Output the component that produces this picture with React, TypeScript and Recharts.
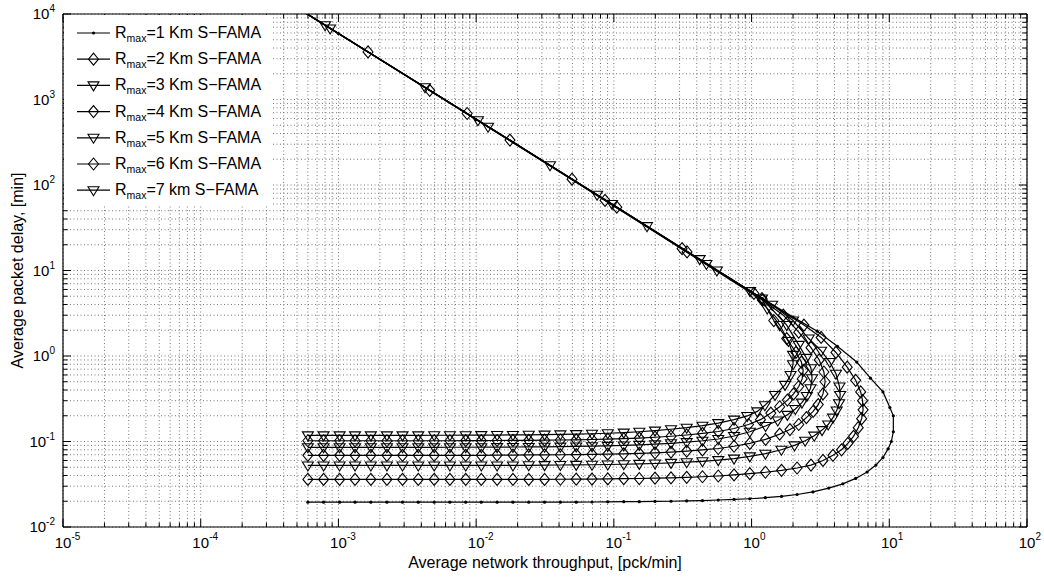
import React from 'react';
import { LineChart, Line, XAxis, YAxis, CartesianGrid, ReferenceLine } from 'recharts';

const FONT = '"Liberation Sans", Arial, Helvetica, sans-serif';
const WIDTH = 1044;
const HEIGHT = 577;
const PLOT_LEFT = 63;
const PLOT_TOP = 14;
const PLOT_RIGHT = 1027;
const PLOT_BOTTOM = 527;
const X_MIN = 1e-5;
const X_MAX = 1e2;
const Y_MIN = 1e-2;
const Y_MAX = 1e4;
const X_PX_PER_DEC = (PLOT_RIGHT - PLOT_LEFT) / 7;
const Y_PX_PER_DEC = (PLOT_BOTTOM - PLOT_TOP) / 6;

const xTickExps = [-5, -4, -3, -2, -1, 0, 1, 2];
const yTickExps = [-2, -1, 0, 1, 2, 3, 4];

// throughput of the markers on the flat, low-load branch (same for every curve)
const lowThroughput = [
  0.0006, 0.00078, 0.00102, 0.00132, 0.00172, 0.00225, 0.00292, 0.0038, 0.00496, 0.00645,
  0.0084, 0.0109, 0.0142, 0.0185, 0.0241, 0.0314, 0.0409, 0.0533, 0.0694, 0.0903,
  0.118, 0.153, 0.199, 0.26, 0.338, 0.44, 0.573,
];

// delay on the flat branch, one value per lowThroughput point
const lowDelay1 = [
  0.0195, 0.0195, 0.0195, 0.0195, 0.0195, 0.0195, 0.0195, 0.0195, 0.0195, 0.0195,
  0.0195, 0.0195, 0.0195, 0.0195, 0.0195, 0.0195, 0.0195, 0.0195, 0.0196, 0.0197,
  0.0198, 0.0198, 0.0199, 0.02, 0.0202, 0.0204, 0.0207,
];
const lowDelay2 = [
  0.036, 0.036, 0.036, 0.036, 0.036, 0.036, 0.036, 0.036, 0.036, 0.036,
  0.036, 0.036, 0.036, 0.036, 0.036, 0.036, 0.0362, 0.0363, 0.0364, 0.0365,
  0.0367, 0.0369, 0.0372, 0.0376, 0.0381, 0.0387, 0.0395,
];
const lowDelay3 = [
  0.0525, 0.0525, 0.0525, 0.0525, 0.0525, 0.0525, 0.0525, 0.0525, 0.0525, 0.0525,
  0.0525, 0.0525, 0.0525, 0.0525, 0.0527, 0.0529, 0.0531, 0.0533, 0.0535, 0.0538,
  0.0542, 0.0547, 0.0553, 0.0562, 0.0573, 0.0587, 0.0606,
];
const lowDelay4 = [
  0.069, 0.069, 0.069, 0.069, 0.069, 0.069, 0.069, 0.069, 0.069, 0.069,
  0.069, 0.069, 0.0693, 0.0694, 0.0696, 0.0698, 0.07, 0.0703, 0.0707, 0.0712,
  0.0718, 0.0727, 0.0738, 0.0753, 0.0772, 0.0796, 0.0828,
];
const lowDelay5 = [
  0.0855, 0.0855, 0.0855, 0.0855, 0.0855, 0.0855, 0.0855, 0.0855, 0.0855, 0.0856,
  0.0857, 0.0858, 0.086, 0.0862, 0.0864, 0.0867, 0.087, 0.0875, 0.0881, 0.0889,
  0.0899, 0.0913, 0.093, 0.0953, 0.0982, 0.102, 0.107,
];
const lowDelay6 = [
  0.102, 0.102, 0.102, 0.102, 0.102, 0.102, 0.102, 0.102, 0.102, 0.102,
  0.1024, 0.1026, 0.1027, 0.1029, 0.1032, 0.1036, 0.1041, 0.1047, 0.1055, 0.1066,
  0.108, 0.1098, 0.1122, 0.1152, 0.1192, 0.1244, 0.131,
];
const lowDelay7 = [
  0.118, 0.118, 0.118, 0.118, 0.118, 0.118, 0.118, 0.118, 0.1183, 0.1184,
  0.1185, 0.1187, 0.119, 0.1193, 0.1197, 0.1203, 0.121, 0.122, 0.1232, 0.1249,
  0.1271, 0.13, 0.134, 0.139, 0.145, 0.153, 0.164,
];

// rest of each curve: [throughput, delay] from the knee, round the nose, back up the diagonal
const tail1: [number, number][] = [
  [0.746, 0.021], [0.971, 0.0214], [1.26, 0.022], [1.65, 0.0228], [2.14, 0.024], [2.79, 0.0257],
  [3.63, 0.0285], [4.6, 0.032], [5.7, 0.037], [6.9, 0.044], [8.0, 0.053], [9.0, 0.065],
  [9.8, 0.082], [10.35, 0.1], [10.7, 0.13], [10.7, 0.2], [10.1, 0.25], [9.0, 0.38],
  [7.3, 0.55], [5.8, 0.85], [4.2, 1.3], [3.0, 1.95], [2.0, 2.85], [1.2, 4.7],
  [0.5, 11.3], [0.1, 57], [0.01, 580], [0.001, 5900], [0.00035, 17000],
];
const tail2: [number, number][] = [
  [0.746, 0.0406], [0.971, 0.042], [1.26, 0.0437], [1.65, 0.046], [2.14, 0.049], [2.7, 0.053],
  [3.3, 0.06], [3.9, 0.069], [4.5, 0.08], [5.0, 0.095], [5.5, 0.115], [5.95, 0.145],
  [6.3, 0.185], [6.45, 0.235], [6.4, 0.3], [6.2, 0.38], [5.7, 0.52], [4.95, 0.74],
  [4.1, 1.1], [3.2, 1.65], [2.4, 2.3], [1.19, 4.7], [0.34, 16.5], [0.105, 55],
  [0.0046, 1280], [0.00035, 17000],
];
const tail3: [number, number][] = [
  [0.746, 0.063], [0.971, 0.067], [1.26, 0.072], [1.646, 0.08], [2.05, 0.09], [2.45, 0.102],
  [2.85, 0.117], [3.25, 0.136], [3.6, 0.158], [3.9, 0.19], [4.15, 0.23], [4.32, 0.28],
  [4.4, 0.35], [4.35, 0.44], [4.1, 0.62], [3.7, 0.85], [3.2, 1.15], [2.6, 1.6],
  [2.0, 2.6], [1.41, 3.97], [0.42, 13.6], [0.0755, 77], [0.0122, 480], [0.00087, 6780],
  [0.00035, 17000],
];
const tail4: [number, number][] = [
  [0.746, 0.088], [0.971, 0.095], [1.264, 0.106], [1.6, 0.122], [1.9, 0.138], [2.2, 0.158],
  [2.5, 0.19], [2.8, 0.225], [3.05, 0.27], [3.3, 0.36], [3.42, 0.5], [3.35, 0.65],
  [3.1, 0.9], [2.7, 1.25], [2.2, 1.9], [1.7, 3.0], [1.04, 5.4], [0.313, 18],
  [0.0497, 117], [0.0086, 686], [0.00035, 17000],
];
const tail5: [number, number][] = [
  [0.746, 0.116], [0.971, 0.13], [1.264, 0.152], [1.55, 0.176], [1.82, 0.205], [2.08, 0.24],
  [2.32, 0.285], [2.52, 0.34], [2.68, 0.42], [2.75, 0.55], [2.7, 0.72], [2.5, 0.95],
  [2.2, 1.35], [1.8, 2.3], [1.19, 4.7], [0.47, 11.9], [0.174, 33], [0.0344, 170],
  [0.00425, 1390], [0.00035, 17000],
];
const tail6: [number, number][] = [
  [0.746, 0.142], [0.95, 0.158], [1.16, 0.18], [1.38, 0.215], [1.6, 0.255], [1.82, 0.305],
  [2.02, 0.36], [2.2, 0.44], [2.33, 0.54], [2.37, 0.68], [2.3, 0.85], [2.1, 1.1],
  [1.8, 1.6], [1.45, 2.6], [1.2, 4.5], [0.0863, 66], [0.0176, 335], [0.00164, 3600],
  [0.00035, 17000],
];
const tail7: [number, number][] = [
  [0.746, 0.18], [0.93, 0.199], [1.1, 0.225], [1.25, 0.265], [1.48, 0.35], [1.75, 0.46],
  [1.92, 0.6], [2.0, 0.8], [2.0, 1.03], [1.85, 1.5], [1.6, 2.3], [1.3, 3.6],
  [0.975, 5.74], [0.56, 10], [0.097, 60], [0.0103, 573], [0.0008, 7375], [0.00035, 17000],
];

const legendKm = ['1 Km', '2 Km', '3 Km', '4 Km', '5 Km', '6 Km', '7 km'];
type MarkerKind = 'dot' | 'diamond' | 'triangle';
const markerKinds: MarkerKind[] = ['dot', 'diamond', 'triangle', 'diamond', 'triangle', 'diamond', 'triangle'];

const curves = [
  { low: lowDelay1, tail: tail1 },
  { low: lowDelay2, tail: tail2 },
  { low: lowDelay3, tail: tail3 },
  { low: lowDelay4, tail: tail4 },
  { low: lowDelay5, tail: tail5 },
  { low: lowDelay6, tail: tail6 },
  { low: lowDelay7, tail: tail7 },
].map((c, i) => ({
  key: `r${i + 1}`,
  marker: markerKinds[i],
  label: legendKm[i],
  data: [
    ...lowThroughput.map((s, j) => ({ s, d: c.low[j] })),
    ...c.tail.map(([s, d]) => ({ s, d })),
  ],
}));

// 1..9 x 10^k positions for the dotted grid and the small ticks
function logSteps(exps: number[]) {
  const out: number[] = [];
  for (const e of exps.slice(0, -1)) {
    for (let m = 1; m <= 9; m++) out.push(m * Math.pow(10, e));
  }
  out.push(Math.pow(10, exps[exps.length - 1]));
  return out;
}
const xGrid = logSteps(xTickExps);
const yGrid = logSteps(yTickExps);
const xTicks = xTickExps.map((e) => Math.pow(10, e));
const yTicks = yTickExps.map((e) => Math.pow(10, e));

const isDecade = (v: number) => Math.abs(Math.log10(v) - Math.round(Math.log10(v))) < 1e-6;
const shiftLog = (v: number, px: number, perDec: number) => v * Math.pow(10, px / perDec);

function markerShape(kind: MarkerKind, cx: number, cy: number, key: string) {
  if (kind === 'dot') return <circle key={key} cx={cx} cy={cy} r={1.6} fill="#000" />;
  if (kind === 'diamond') {
    return (
      <path key={key} d={`M${cx},${cy - 6}L${cx + 5},${cy}L${cx},${cy + 6}L${cx - 5},${cy}Z`}
        fill="none" stroke="#000" strokeWidth={1.1} />
    );
  }
  return (
    <path key={key} d={`M${cx - 5.5},${cy - 3.5}L${cx + 5.5},${cy - 3.5}L${cx},${cy + 5.5}Z`}
      fill="none" stroke="#000" strokeWidth={1.1} />
  );
}

const XTick = (props: any) => {
  const { x, payload } = props;
  const e = Math.round(Math.log10(payload.value));
  return (
    <g fontFamily={FONT} fill="#000">
      <text x={x} y={PLOT_BOTTOM + 21} textAnchor="middle" fontSize={15} fill="#000">10</text>
      <text x={x + 8.5} y={PLOT_BOTTOM + 13} fontSize={10} fill="#000">{e}</text>
    </g>
  );
};

const YTick = (props: any) => {
  const { y, payload } = props;
  const e = Math.round(Math.log10(payload.value));
  return (
    <text x={PLOT_LEFT - 8} y={y + 5} textAnchor="end" fontFamily={FONT} fill="#000">
      <tspan fontSize={15}>10</tspan>
      <tspan fontSize={10} dy={-7}>{e}</tspan>
    </text>
  );
};

function Legend() {
  return (
    <g fontFamily={FONT} fill="#000">
      <rect x={PLOT_LEFT + 1} y={PLOT_TOP + 1} width={209} height={190} fill="#fff" />
      {curves.map((c, i) => {
        const y = PLOT_TOP + 19 + i * 26.2;
        return (
          <g key={c.key}>
            <line x1={77} x2={110} y1={y} y2={y} stroke="#000" strokeWidth={1.2} />
            {markerShape(c.marker, 93.5, y, `lg${i}`)}
            <text x={115} y={y + 5} fontSize={16}>
              R<tspan fontSize={10.5} dy={4}>max</tspan>
              <tspan dy={-4}>={c.label} S−FAMA</tspan>
            </text>
          </g>
        );
      })}
    </g>
  );
}

export default function App() {
  const tickMarks: React.ReactNode[] = [];
  xGrid.forEach((v, i) => {
    const len = isDecade(v) ? 8 : 4.5;
    tickMarks.push(
      <ReferenceLine key={`xb${i}`} segment={[{ x: v, y: Y_MIN }, { x: v, y: shiftLog(Y_MIN, len, Y_PX_PER_DEC) }]}
        stroke="#000" strokeWidth={1} />,
      <ReferenceLine key={`xt${i}`} segment={[{ x: v, y: Y_MAX }, { x: v, y: shiftLog(Y_MAX, -len, Y_PX_PER_DEC) }]}
        stroke="#000" strokeWidth={1} />,
    );
  });
  yGrid.forEach((v, i) => {
    const len = isDecade(v) ? 8 : 4.5;
    tickMarks.push(
      <ReferenceLine key={`yl${i}`} segment={[{ x: X_MIN, y: v }, { x: shiftLog(X_MIN, len, X_PX_PER_DEC), y: v }]}
        stroke="#000" strokeWidth={1} />,
      <ReferenceLine key={`yr${i}`} segment={[{ x: X_MAX, y: v }, { x: shiftLog(X_MAX, -len, X_PX_PER_DEC), y: v }]}
        stroke="#000" strokeWidth={1} />,
    );
  });

  return (
    <div style={{ position: 'absolute', left: 0, top: 0, width: WIDTH, height: HEIGHT, background: '#fff' }}>
      <LineChart
        width={WIDTH}
        height={HEIGHT}
        margin={{ top: PLOT_TOP, right: WIDTH - PLOT_RIGHT, bottom: HEIGHT - PLOT_BOTTOM - 30, left: PLOT_LEFT - 55 }}
      >
        <CartesianGrid horizontalValues={yGrid} verticalValues={xGrid} stroke="#777" strokeDasharray="1 2.5" />
        <XAxis
          dataKey="s"
          type="number"
          scale="log"
          domain={[X_MIN, X_MAX]}
          allowDataOverflow
          ticks={xTicks}
          interval={0}
          tick={(p: any) => <XTick {...p} />}
          tickLine={false}
          axisLine={{ stroke: '#000', strokeWidth: 1.2 }}
          height={30}
        />
        <YAxis
          type="number"
          scale="log"
          domain={[Y_MIN, Y_MAX]}
          allowDataOverflow
          ticks={yTicks}
          interval={0}
          tick={(p: any) => <YTick {...p} />}
          tickLine={false}
          axisLine={{ stroke: '#000', strokeWidth: 1.2 }}
          width={55}
        />
        <ReferenceLine y={Y_MAX} stroke="#000" strokeWidth={1.2} />
        <ReferenceLine x={X_MAX} stroke="#000" strokeWidth={1.2} />
        {tickMarks}
        {curves.map((c) => (
          <Line
            key={c.key}
            data={c.data}
            dataKey="d"
            type="linear"
            stroke="#000"
            strokeWidth={1.2}
            isAnimationActive={false}
            activeDot={false}
            dot={(p: any) =>
              p.cx == null || p.cy == null
                ? <g key={`${c.key}-${p.index}`} />
                : markerShape(c.marker, p.cx, p.cy, `${c.key}-${p.index}`)
            }
          />
        ))}
      </LineChart>
      <svg width={WIDTH} height={HEIGHT} style={{ position: 'absolute', left: 0, top: 0, pointerEvents: 'none' }}>
        <Legend />
        <text x={(PLOT_LEFT + PLOT_RIGHT) / 2} y={PLOT_BOTTOM + 41} textAnchor="middle" fontFamily={FONT} fontSize={16} fill="#000">
          Average network throughput, [pck/min]
        </text>
        <text transform={`translate(17, ${(PLOT_TOP + PLOT_BOTTOM) / 2}) rotate(-90)`} textAnchor="middle"
          dominantBaseline="central" fontFamily={FONT} fontSize={16} fill="#000">
          Average packet delay, [min]
        </text>
      </svg>
    </div>
  );
}
